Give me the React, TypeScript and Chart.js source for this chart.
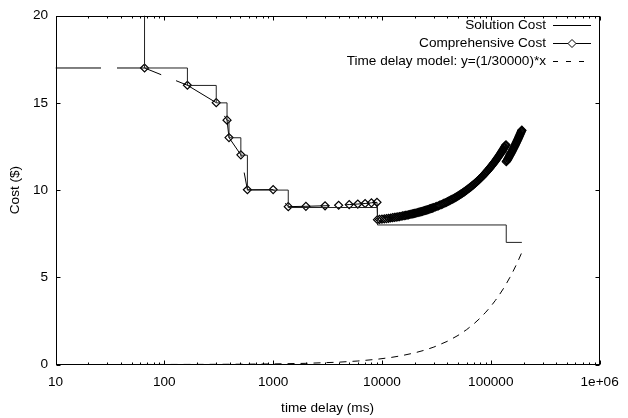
import React, { useEffect, useRef } from 'react';
import { Chart, registerables } from 'chart.js';

Chart.register(...registerables);

// ---- Data ----
const seriesNames = ['Solution Cost', 'Comprehensive Cost', 'Time delay model: y=(1/30000)*x'];

const xTickValues = [10, 100, 1000, 10000, 100000, 1000000];
const xTickLabels = ['10', '100', '1000', '10000', '100000', '1e+06'];
const yTickValues = [0, 5, 10, 15, 20];

const solutionX = [10, 65.8, 163, 300, 377, 393, 505, 580, 1377, 9100, 138700, 193000];
const solutionY = [22, 17, 16, 15, 14, 13, 12, 10, 9, 8, 7, 7];

const compX = [
  10, 65.8, 163, 300, 377, 393, 505, 580, 1000, 1377,
  2000, 3000, 4000, 5000, 6000, 7000, 8000, 9000,
  9100, 9500, 10000, 10500, 11000, 11500, 12000, 12500, 13000, 13500, 14000,
  14500, 15000, 15500, 16000, 16500, 17000, 17500, 18000, 18500, 19000, 19500, 20000,
  20500, 21000, 21500, 22000, 22500, 23000, 23500, 24000, 24500, 25000,
  25500, 26000, 26500, 27000, 27500, 28000, 28500, 29000, 29500, 30000,
  31000, 32000, 33000, 34000, 35000, 36000, 37000, 38000, 39000, 40000,
  41000, 42000, 43000, 44000, 45000, 46000, 47000, 48000, 49000, 50000,
  51000, 52000, 53000, 54000, 55000, 56000, 57000, 58000, 59000, 60000,
  61500, 63000, 64500, 66000, 67500, 69000, 70500, 72000, 73500, 75000,
  76500, 78000, 79500, 81000, 82500, 84000, 85500, 87000, 88500, 90000,
  91500, 93000, 94500, 96000, 97500, 99000, 100500, 102000, 103500, 105000,
  106500, 108000, 109500, 111000, 112500, 114000, 115500, 117000, 118500, 120000,
  121500, 123000, 124500, 126000, 127500, 129000, 130500, 132000, 133500, 135000,
  136500, 138000,
  138700, 140000, 141500, 143000, 144500, 146000, 147500, 149000, 150500, 152000,
  153500, 155000, 156500, 158000, 159500, 161000, 162500, 164000, 165500, 167000,
  168500, 170000, 171500, 173000, 174500, 176000, 177500, 179000, 180500, 182000,
  183500, 185000, 186500, 188000, 189500, 191000, 192500, 193000,
];
const compY = [
  17, 17, 16.01, 15.01, 14.01, 13.01, 12.02, 10.02, 10.03, 9.05,
  9.07, 9.1, 9.13, 9.17, 9.2, 9.23, 9.27, 9.3,
  8.303, 8.317, 8.333, 8.35, 8.367, 8.383, 8.4, 8.417, 8.433, 8.45, 8.467,
  8.483, 8.5, 8.517, 8.533, 8.55, 8.567, 8.583, 8.6, 8.617, 8.633, 8.65, 8.667,
  8.683, 8.7, 8.717, 8.733, 8.75, 8.767, 8.783, 8.8, 8.817, 8.833,
  8.85, 8.867, 8.883, 8.9, 8.917, 8.933, 8.95, 8.967, 8.983, 9.0,
  9.033, 9.067, 9.1, 9.133, 9.167, 9.2, 9.233, 9.267, 9.3, 9.333,
  9.367, 9.4, 9.433, 9.467, 9.5, 9.533, 9.567, 9.6, 9.633, 9.667,
  9.7, 9.733, 9.767, 9.8, 9.833, 9.867, 9.9, 9.933, 9.967, 10.0,
  10.05, 10.1, 10.15, 10.2, 10.25, 10.3, 10.35, 10.4, 10.45, 10.5,
  10.55, 10.6, 10.65, 10.7, 10.75, 10.8, 10.85, 10.9, 10.95, 11.0,
  11.05, 11.1, 11.15, 11.2, 11.25, 11.3, 11.35, 11.4, 11.45, 11.5,
  11.55, 11.6, 11.65, 11.7, 11.75, 11.8, 11.85, 11.9, 11.95, 12.0,
  12.05, 12.1, 12.15, 12.2, 12.25, 12.3, 12.35, 12.4, 12.45, 12.5,
  12.55, 12.6,
  11.623, 11.667, 11.717, 11.767, 11.817, 11.867, 11.917, 11.967, 12.017, 12.067,
  12.117, 12.167, 12.217, 12.267, 12.317, 12.367, 12.417, 12.467, 12.517, 12.567,
  12.617, 12.667, 12.717, 12.767, 12.817, 12.867, 12.917, 12.967, 13.017, 13.067,
  13.117, 13.167, 13.217, 13.267, 13.317, 13.367, 13.417, 13.433,
];

const modelX = [
  65.8, 163, 300, 580, 1000, 2000, 4000, 6000, 9100, 12000, 15000, 20000, 25000, 30000,
  40000, 50000, 60000, 70000, 80000, 90000, 100000, 110000, 120000, 130000, 140000,
  150000, 160000, 170000, 180000, 193000,
];
const modelY = [
  0.002, 0.005, 0.01, 0.019, 0.033, 0.067, 0.133, 0.2, 0.303, 0.4, 0.5, 0.667, 0.833, 1.0,
  1.333, 1.667, 2.0, 2.333, 2.667, 3.0, 3.333, 3.667, 4.0, 4.333, 4.667,
  5.0, 5.333, 5.667, 6.0, 6.433,
];

const FONT = 'Liberation Sans, Arial, Helvetica, sans-serif';
const FONT_SIZE = 13.6;

const toPoints = (xs: number[], ys: number[]) => xs.map((x, i) => ({ x, y: ys[i] }));

const framePlugin = {
  id: 'gnuplotFrame',
  afterDatasetsDraw(chart: any) {
    const { ctx, chartArea: a, scales } = chart;
    const x = scales.x;
    const y = scales.y;
    const L = Math.round(a.left) + 0.5;
    const R = Math.round(a.right) - 0.5;
    const T = Math.round(a.top) + 0.5;
    const B = Math.round(a.bottom) - 0.5;
    ctx.save();
    ctx.strokeStyle = '#000';
    ctx.lineWidth = 1;
    ctx.setLineDash([]);
    ctx.beginPath();
    const major = 4;
    const minor = 2;
    for (let i = 0; i < xTickValues.length; i++) {
      const d = xTickValues[i];
      const px = Math.round(x.getPixelForValue(d)) + 0.5;
      ctx.moveTo(px, B); ctx.lineTo(px, B - major);
      ctx.moveTo(px, T); ctx.lineTo(px, T + major);
      if (i < xTickValues.length - 1) {
        for (let m = 2; m <= 9; m++) {
          const mp = Math.round(x.getPixelForValue(d * m)) + 0.5;
          ctx.moveTo(mp, B); ctx.lineTo(mp, B - minor);
          ctx.moveTo(mp, T); ctx.lineTo(mp, T + minor);
        }
      }
    }
    for (const v of yTickValues) {
      const py = Math.round(y.getPixelForValue(v)) + 0.5;
      ctx.moveTo(L, py); ctx.lineTo(L + major, py);
      ctx.moveTo(R, py); ctx.lineTo(R - major, py);
    }
    ctx.stroke();
    ctx.strokeRect(L, T, R - L, B - T);

    // legend (gnuplot style: right-aligned text, sample to the right)
    ctx.font = `${FONT_SIZE}px ${FONT}`;
    ctx.fillStyle = '#000';
    ctx.textAlign = 'right';
    ctx.textBaseline = 'middle';
    const textRight = 546;
    const s0 = 553;
    const s1 = 591;
    const rows = [25, 43, 61];
    seriesNames.forEach((name, i) => {
      const ry = rows[i];
      ctx.fillText(name, textRight, ry);
      const ly = Math.round(ry) + 0.5;
      ctx.beginPath();
      if (i === 2) ctx.setLineDash([5, 8]); else ctx.setLineDash([]);
      ctx.moveTo(s0, ly);
      ctx.lineTo(s1, ly);
      ctx.stroke();
      ctx.setLineDash([]);
      if (i === 1) {
        const cx = (s0 + s1) / 2;
        ctx.beginPath();
        ctx.moveTo(cx, ly - 4);
        ctx.lineTo(cx + 4, ly);
        ctx.lineTo(cx, ly + 4);
        ctx.lineTo(cx - 4, ly);
        ctx.closePath();
        ctx.fillStyle = '#fff';
        ctx.fill();
        ctx.stroke();
        ctx.fillStyle = '#000';
      }
    });
    ctx.restore();
  },
};

export default function App() {
  const canvasRef = useRef<HTMLCanvasElement | null>(null);

  useEffect(() => {
    const canvas = canvasRef.current;
    if (!canvas) return;
    Chart.defaults.font.family = FONT;
    Chart.defaults.font.size = FONT_SIZE;
    Chart.defaults.color = '#000';

    const compRadius = compX.map((_, i) => (i === 0 ? 0 : 4));

    const chart = new Chart(canvas, {
      type: 'line',
      data: {
        datasets: [
          {
            label: seriesNames[0],
            data: toPoints(solutionX, solutionY),
            borderColor: '#222',
            borderWidth: 1,
            pointRadius: 0,
            stepped: 'before',
            fill: false,
          },
          {
            label: seriesNames[1],
            data: toPoints(compX, compY),
            borderColor: '#000',
            borderWidth: 1,
            borderDash: [45.5, 16],
            pointStyle: 'rectRot',
            pointRadius: compRadius,
            pointBorderWidth: 1.2,
            pointBorderColor: '#000',
            pointBackgroundColor: 'rgba(255,255,255,0)',
            fill: false,
          },
          {
            label: seriesNames[2],
            data: toPoints(modelX, modelY),
            borderColor: '#000',
            borderWidth: 1,
            borderDash: [7, 6],
            pointRadius: 0,
            fill: false,
          },
        ],
      } as any,
      options: {
        animation: false,
        responsive: false,
        maintainAspectRatio: false,
        events: [],
        layout: { padding: { top: 14, right: 19.3, bottom: 0, left: 0 } },
        plugins: {
          legend: { display: false },
          tooltip: { enabled: false },
        },
        scales: {
          x: {
            type: 'logarithmic',
            min: 10,
            max: 1000000,
            grid: { display: false, drawTicks: false },
            border: { display: false },
            afterBuildTicks: (scale: any) => {
              scale.ticks = xTickValues.map((v) => ({ value: v, major: true }));
            },
            afterFit: (scale: any) => {
              scale.height = 53.5;
            },
            ticks: {
              autoSkip: false,
              maxRotation: 0,
              minRotation: 0,
              padding: 9.3,
              color: '#000',
              font: { size: FONT_SIZE, family: FONT },
              callback: (value: any) => {
                const i = xTickValues.indexOf(Number(value));
                return i >= 0 ? xTickLabels[i] : '';
              },
            },
            title: {
              display: true,
              text: 'time delay (ms)',
              color: '#000',
              font: { size: FONT_SIZE, family: FONT },
              padding: { top: 0, bottom: 1.8 },
            },
          },
          y: {
            type: 'linear',
            min: 0,
            max: 20,
            grid: { display: false, drawTicks: false },
            border: { display: false },
            afterBuildTicks: (scale: any) => {
              scale.ticks = yTickValues.map((v) => ({ value: v }));
            },
            afterFit: (scale: any) => {
              scale.width = 55.5;
            },
            ticks: {
              padding: 7.5,
              color: '#000',
              font: { size: FONT_SIZE, family: FONT },
              callback: (value: any) => String(value),
            },
            title: {
              display: true,
              text: 'Cost ($)',
              color: '#000',
              font: { size: FONT_SIZE, family: FONT },
              padding: { top: 6.8, bottom: 0 },
            },
          },
        },
      } as any,
      plugins: [framePlugin],
    });

    return () => {
      chart.destroy();
    };
  }, []);

  return (
    <div style={{ position: 'fixed', left: 0, top: 0, width: 628, height: 418, background: '#fff' }}>
      <canvas ref={canvasRef} width={628} height={418} style={{ display: 'block' }} />
    </div>
  );
}
